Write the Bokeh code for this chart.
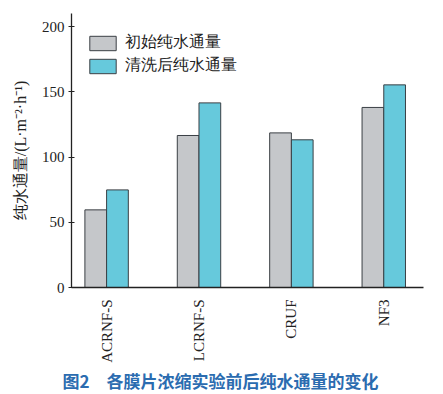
from bokeh.plotting import figure
from bokeh.models import Range1d, FixedTicker, Legend, LegendItem, Title, ColumnDataSource
from bokeh.embed import file_html
from bokeh.resources import INLINE

categories = ["ACRNF-S", "LCRNF-S", "CRUF", "NF3"]
initial_flux = [59.5, 116.5, 118.5, 138.0]
cleaned_flux = [74.8, 141.5, 113.2, 155.3]
series_names = ["初始纯水通量", "清洗后纯水通量"]
y_ticks = [0, 50, 100, 150, 200]
caption = "图2\u3000各膜片浓缩实验前后纯水通量的变化"

idx = list(range(len(categories)))
bw = 0.235
src = ColumnDataSource(dict(
    x1=[i - bw / 2 for i in idx], x2=[i + bw / 2 for i in idx],
    a=initial_flux, b=cleaned_flux))

p = figure(width=435, height=393, output_backend="svg", toolbar_location=None,
           x_range=Range1d(-0.38, 3.43), y_range=Range1d(0, 210),
           min_border_left=71, min_border_right=12, min_border_top=13, min_border_bottom=100)
p.outline_line_color = None
p.xgrid.visible = False
p.ygrid.visible = False

r1 = p.vbar(x="x1", top="a", width=bw, source=src, fill_color="#c5c7ca",
            line_color="#3a3f44", line_width=1)
r2 = p.vbar(x="x2", top="b", width=bw, source=src, fill_color="#66c9dc",
            line_color="#3a3f44", line_width=1)

font = "Liberation Serif"
p.yaxis.ticker = FixedTicker(ticks=y_ticks)
p.yaxis.minor_tick_line_color = None
p.yaxis.major_tick_in = 3
p.yaxis.major_tick_out = 3
p.yaxis.major_tick_line_color = "#222222"
p.yaxis.major_label_standoff = 4
p.yaxis.major_label_text_font = font
p.yaxis.major_label_text_font_size = "15px"
p.yaxis.major_label_text_color = "#222222"
p.yaxis.axis_label = "纯水通量/(L·m⁻²·h⁻¹)"
p.yaxis.axis_label_text_font = font
p.yaxis.axis_label_text_font_style = "normal"
p.yaxis.axis_label_text_font_size = "16px"
p.yaxis.axis_label_text_color = "#222222"
p.yaxis.axis_label_standoff = 10

p.xaxis.ticker = FixedTicker(ticks=idx)
p.xaxis.major_label_overrides = {i: c for i, c in zip(idx, categories)}
p.xaxis.major_tick_line_color = None
p.xaxis.minor_tick_line_color = None
p.xaxis.major_label_orientation = 1.5708
p.xaxis.major_label_text_font = font
p.xaxis.major_label_text_font_size = "15px"
p.xaxis.major_label_text_color = "#222222"
p.xaxis.major_label_standoff = 6

for ax in (p.xaxis, p.yaxis):
    ax.axis_line_color = "#222222"
    ax.axis_line_width = 1.3

legend = Legend(items=[LegendItem(label=series_names[0], renderers=[r1]),
                       LegendItem(label=series_names[1], renderers=[r2])],
                location=(15, 211), border_line_color=None, background_fill_alpha=0,
                label_text_font=font, label_text_font_size="16px",
                label_text_color="#222222",
                glyph_width=33, glyph_height=18, spacing=2, padding=0,
                margin=0, label_standoff=6, label_height=18)
p.add_layout(legend)

p.add_layout(Title(text=caption, align="left", offset=-9, standoff=1,
                   text_font="Noto Sans CJK SC", text_font_style="bold",
                   text_font_size="17px", text_color="#2b6cb0"), "below")

open("out.html", "w").write(file_html(p, INLINE))
